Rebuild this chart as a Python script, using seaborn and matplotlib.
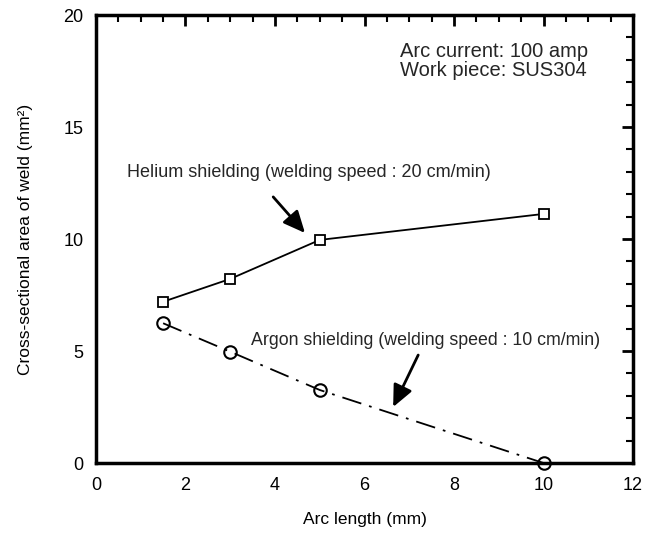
import matplotlib
matplotlib.use("Agg")
import matplotlib.pyplot as plt
import seaborn as sns
import numpy as np
from matplotlib.ticker import MultipleLocator

sns.set_theme(style="white")
plt.rcParams['font.family'] = ['Liberation Sans', 'DejaVu Sans']

arc_length = [1.5, 3, 5, 10]
helium_area = [7.2, 8.22, 9.96, 11.12]
argon_area = [6.24, 4.97, 3.26, 0.0]

fig = plt.figure(figsize=(6.57, 5.33), dpi=100)
ax = fig.add_axes([0.1461, 0.1313, 0.8174, 0.8405])

sns.lineplot(x=arc_length, y=helium_area, ax=ax, color='black', lw=1.3,
             marker='s', markersize=7, markerfacecolor='white',
             markeredgecolor='black', markeredgewidth=1.3)
sns.lineplot(x=arc_length, y=argon_area, ax=ax, color='black', lw=1.3,
             marker='o', markersize=9, markerfacecolor='none',
             markeredgecolor='black', markeredgewidth=1.5)
lines = ax.get_lines()
lines[1].set_dashes([11, 4.5, 1.5, 4.5])
for ln in lines:
    ln.set_clip_on(False)

ax.set_xlim(0, 12)
ax.set_ylim(0, 20)
ax.xaxis.set_major_locator(MultipleLocator(2))
ax.xaxis.set_minor_locator(MultipleLocator(0.5))
ax.yaxis.set_major_locator(MultipleLocator(5))
ax.yaxis.set_minor_locator(MultipleLocator(1))
ax.tick_params(which='both', direction='in', top=True, right=True,
               color='black', labelsize=13, labelcolor='black')
ax.tick_params(which='major', length=8, width=2)
ax.tick_params(which='minor', length=5, width=1.5)
ax.tick_params(axis='x', which='major', pad=10)
ax.tick_params(axis='y', which='major', pad=9)
for sp in ax.spines.values():
    sp.set_linewidth(2.5)
    sp.set_color('black')

ax.set_xlabel('Arc length (mm)', fontsize=12.5, labelpad=13, color='black')
ax.set_ylabel('Cross-sectional area of weld (mm²)', fontsize=12.5, labelpad=22, color='black')

ax.text(6.8, 17.97, 'Arc current: 100 amp\nWork piece: SUS304', fontsize=14.5,
        ha='left', va='center', linespacing=1.0)
ax.text(0.69, 12.99, 'Helium shielding (welding speed : 20 cm/min)', fontsize=13,
        ha='left', va='center')
ax.text(3.46, 5.45, 'Argon shielding (welding speed : 10 cm/min)', fontsize=12.8,
        ha='left', va='center')

arrowprops = dict(arrowstyle='-|>,head_length=1.1,head_width=0.5', color='black',
                  lw=2, shrinkA=0, shrinkB=0)
ax.annotate('', xy=(4.67, 10.27), xytext=(3.96, 11.88), arrowprops=arrowprops)
ax.annotate('', xy=(6.64, 2.5), xytext=(7.2, 4.82), arrowprops=arrowprops)

fig.savefig('out.png', dpi=100)
